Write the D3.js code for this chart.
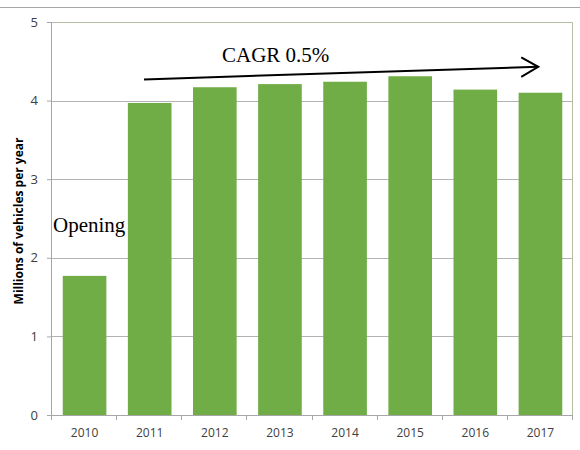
<!DOCTYPE html>
<html>
<head>
<meta charset="utf-8">
<script src="https://cdn.jsdelivr.net/npm/d3@7"></script>
<style>
  html, body { margin: 0; padding: 0; background: #fff; }
  svg { display: block; }
</style>
</head>
<body>
<svg id="chart" width="580" height="450"></svg>
<script>
// Annual traffic, millions of vehicles
const years = ["2010", "2011", "2012", "2013", "2014", "2015", "2016", "2017"];
const vehicles = [1.77, 3.97, 4.17, 4.21, 4.24, 4.31, 4.14, 4.10];
const yTicks = [0, 1, 2, 3, 4, 5];
const yTitle = "Millions of vehicles per year";
const trendLabel = "CAGR 0.5%";
const openingLabel = "Opening";
// Trend arrow runs from 2011 to 2017, drawn above the bars
const trendFrom = { year: "2011", value: 4.27 };
const trendTo = { year: "2017", value: 4.43 };

const svg = d3.select("#chart");
const margin = { top: 22, right: 7, bottom: 35, left: 52 };
const W = 580, H = 450;
const innerW = W - margin.left - margin.right;
const innerH = H - margin.top - margin.bottom;

// thin rule across the top of the page
svg.append("line")
  .attr("x1", 0).attr("x2", W).attr("y1", 7.5).attr("y2", 7.5)
  .attr("stroke", "#a6a6a6").attr("stroke-width", 1);

const g = svg.append("g").attr("transform", `translate(${margin.left},${margin.top})`);

const x = d3.scaleBand().domain(years).range([0, innerW]).paddingInner(0.33).paddingOuter(0.165);
const y = d3.scaleLinear().domain([0, 5]).range([innerH, 0]);

// gridlines
g.append("g")
  .selectAll("line")
  .data(yTicks.filter(d => d > 0 && d < 5))
  .join("line")
  .attr("x1", 0).attr("x2", innerW)
  .attr("y1", d => Math.round(y(d)) + 0.5).attr("y2", d => Math.round(y(d)) + 0.5)
  .attr("stroke", "#b3b3b3").attr("stroke-width", 1);

// plot frame (top and right)
g.append("path")
  .attr("d", `M0,0.5H${innerW - 0.5}V${innerH}`)
  .attr("fill", "none").attr("stroke", "#b5bfa6").attr("stroke-width", 1);

// bars
g.append("g")
  .selectAll("rect")
  .data(years.map((yr, i) => ({ yr, v: vehicles[i] })))
  .join("rect")
  .attr("x", d => x(d.yr))
  .attr("width", x.bandwidth())
  .attr("y", d => y(d.v))
  .attr("height", d => innerH - y(d.v))
  .attr("fill", "#70ad47");

// y axis
const yAxis = g.append("g")
  .call(d3.axisLeft(y).tickValues(yTicks).tickSize(5).tickPadding(9).tickFormat(d3.format("d")));
yAxis.select(".domain").attr("stroke", "#a6a6a6").attr("d", `M-0.5,0V${innerH}`);
yAxis.selectAll(".tick line").attr("stroke", "#a6a6a6");
yAxis.selectAll("text")
  .attr("font-family", "'Open Sans', sans-serif").attr("font-size", 13).attr("fill", "#404040");

// x axis with ticks at category boundaries
const xAxisG = g.append("g").attr("transform", `translate(0,${innerH})`);
xAxisG.append("line")
  .attr("x1", -5).attr("x2", innerW).attr("y1", 0.5).attr("y2", 0.5)
  .attr("stroke", "#a6a6a6");
const step = x.step();
xAxisG.selectAll("line.tk")
  .data(d3.range(years.length + 1))
  .join("line").attr("class", "tk")
  .attr("x1", i => Math.round(i * step) - 0.5).attr("x2", i => Math.round(i * step) - 0.5)
  .attr("y1", 0).attr("y2", 5)
  .attr("stroke", "#a6a6a6");
xAxisG.selectAll("text")
  .data(years)
  .join("text")
  .attr("x", d => x(d) + x.bandwidth() / 2)
  .attr("y", 22)
  .attr("text-anchor", "middle")
  .attr("font-family", "'Open Sans', sans-serif").attr("font-size", 12).attr("fill", "#404040")
  .text(d => d);

// y axis title
svg.append("text")
  .attr("transform", `translate(23,221) rotate(-90)`)
  .attr("text-anchor", "middle")
  .attr("font-family", "'Open Sans', sans-serif").attr("font-weight", "bold")
  .attr("font-size", 12).attr("fill", "#000")
  .text(yTitle);

// trend arrow
const ax1 = x(trendFrom.year) + x.bandwidth() * 0.37;
const ay1 = y(trendFrom.value);
const ax2 = x(trendTo.year) + x.bandwidth() * 0.45;
const ay2 = y(trendTo.value);
g.append("line")
  .attr("x1", ax1).attr("y1", ay1).attr("x2", ax2).attr("y2", ay2)
  .attr("stroke", "#000").attr("stroke-width", 2);
g.append("path")
  .attr("d", `M${ax2 - 17},${ay2 - 9.5}L${ax2},${ay2}L${ax2 - 17},${ay2 + 10}`)
  .attr("fill", "none").attr("stroke", "#000").attr("stroke-width", 2);

// annotations
svg.append("text")
  .attr("x", 222).attr("y", 62)
  .attr("font-family", "'Liberation Serif', 'Times New Roman', serif")
  .attr("font-size", 21).attr("fill", "#000")
  .text(trendLabel);

svg.append("text")
  .attr("x", 53).attr("y", 232)
  .attr("font-family", "'Liberation Serif', 'Times New Roman', serif")
  .attr("font-size", 21).attr("fill", "#000")
  .text(openingLabel);
</script>
</body>
</html>
